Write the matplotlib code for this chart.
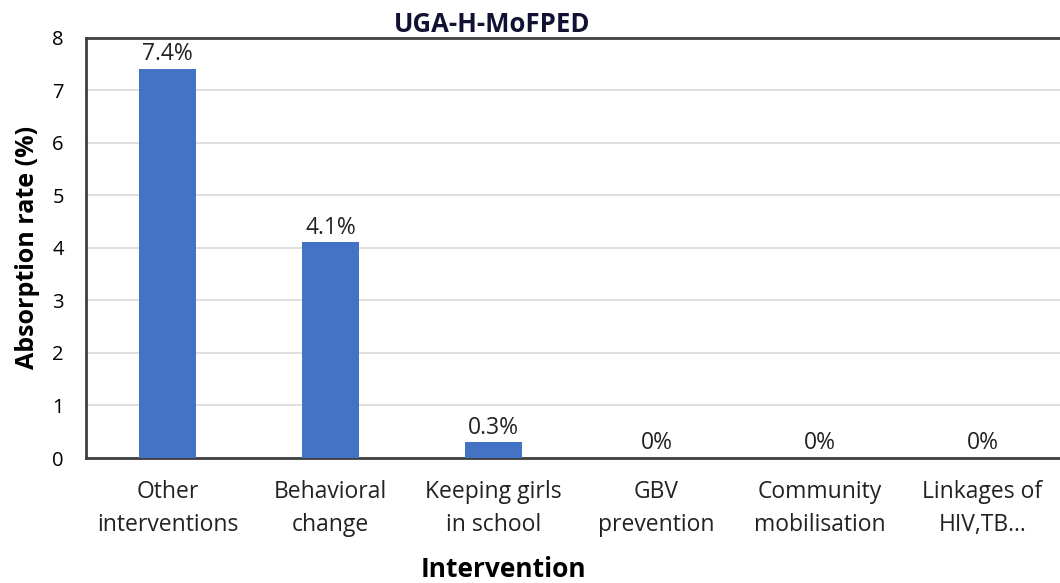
import matplotlib
matplotlib.use("Agg")
import matplotlib.pyplot as plt
import numpy as np

categories = ["Other\ninterventions", "Behavioral\nchange", "Keeping girls\nin school",
              "GBV\nprevention", "Community\nmobilisation", "Linkages of\nHIV,TB…"]
rates = [7.4, 4.1, 0.3, 0, 0, 0]
value_labels = ["7.4%", "4.1%", "0.3%", "0%", "0%", "0%"]

plt.rcParams["font.family"] = ["Open Sans", "DejaVu Sans"]

fig = plt.figure(figsize=(10.6, 5.83), dpi=100)
# right edge of the frame runs just past the picture edge
ax = fig.add_axes([86 / 1060, 1 - 458 / 583, 978 / 1060, 420.5 / 583])

x = np.arange(len(categories))
ax.bar(x, rates, width=0.345, color="#4472C4", zorder=3)
for xi, v, lab in zip(x, rates, value_labels):
    ax.text(xi, v + 0.05, lab, ha="center", va="bottom", fontsize=16.5, color="#222222")

ax.set_xlim(-0.5, 5.5)
ax.set_ylim(0, 8)
ax.set_yticks(range(0, 9))
ax.yaxis.grid(True, color="#d9d9d9", linewidth=1.2, zorder=0)
ax.set_axisbelow(True)
ax.tick_params(axis="both", length=0)
ax.tick_params(axis="y", labelsize=14.5, pad=16)
ax.set_xticks(x)
ax.set_xticklabels(categories, fontsize=16.5, linespacing=1.5, color="#222222")
ax.tick_params(axis="x", pad=16)

for side in ["top", "left", "bottom", "right"]:
    ax.spines[side].set_color("#404040")
    ax.spines[side].set_linewidth(2)

ax.set_ylabel("Absorption rate (%)", fontsize=18, fontweight="bold")
ax.yaxis.set_label_coords(-0.047, 0.5)
ax.set_xlabel("Intervention", fontsize=19, fontweight="bold")
ax.xaxis.set_label_coords(0.427, -0.232)
fig.text(492 / 1060, 1 - 25 / 583, "UGA-H-MoFPED", ha="center", va="center",
         fontsize=18.5, fontweight="bold", color="#111133")

fig.savefig("out.png", dpi=100)
